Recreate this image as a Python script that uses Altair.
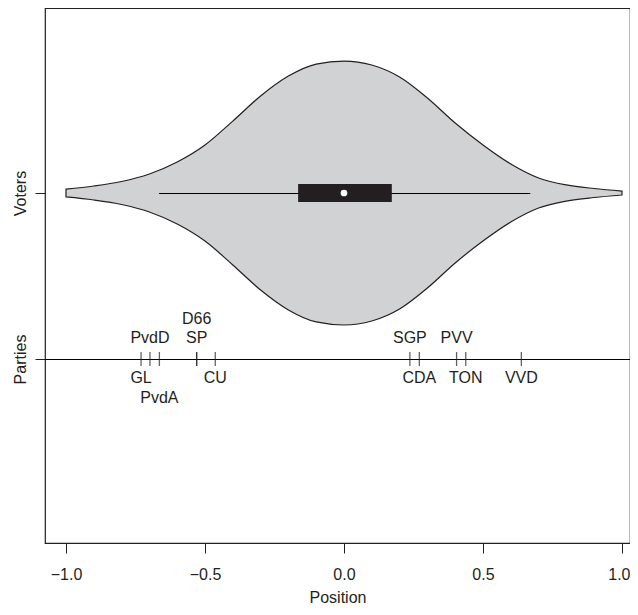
import altair as alt
import pandas as pd

# ---- data ----
grid_x = [-1.0, -0.9, -0.8, -0.7, -0.6, -0.5, -0.4, -0.3, -0.2, -0.1, 0.0,
          0.1, 0.2, 0.3, 0.4, 0.5, 0.6, 0.7, 0.8, 0.9, 1.0]
voter_density = [0.03, 0.053, 0.087, 0.144, 0.235, 0.364, 0.545, 0.735, 0.886, 0.977, 1.0,
                 0.97, 0.879, 0.72, 0.53, 0.364, 0.22, 0.114, 0.061, 0.034, 0.015]

box_q1, box_median, box_q3 = -0.165, 0.0, 0.172
whisker_low, whisker_high = -0.665, 0.67

party_names = ["GL", "PvdD", "PvdA", "D66", "SP", "CU", "SGP", "CDA", "PVV", "TON", "VVD"]
party_pos = [-0.730, -0.698, -0.664, -0.530, -0.530, -0.463, 0.237, 0.271, 0.405, 0.438, 0.638]
label_row = [-1, 1, -2, 2, 1, -1, 1, -1, 1, -1, -1]  # +above / -below the line

row_labels = {2: "Voters", 1: "Parties"}

# ---- layout helpers ----
VOTERS, PARTIES = 2, 1
HALF_MAX = 0.795          # max violin half-height in y units
BOX_HALF = 0.054
FONT = "Liberation Sans"
FS = 16
INK = "#231f20"
W, H = 585, 535
X_DOM = [-1.0755, 1.0288]
Y_DOM = [-0.1084, 3.1145]

violin = pd.DataFrame({
    "x": grid_x,
    "top": [VOTERS + d * HALF_MAX for d in voter_density],
    "bot": [VOTERS - d * HALF_MAX for d in voter_density],
})
box = pd.DataFrame({"q1": [box_q1], "q3": [box_q3], "med": [box_median],
                    "lo": [whisker_low], "hi": [whisker_high],
                    "y": [VOTERS], "ya": [VOTERS - BOX_HALF], "yb": [VOTERS + BOX_HALF]})
parties = pd.DataFrame({"name": party_names, "pos": party_pos, "row": label_row,
                        "y": [PARTIES] * len(party_names)})

xs = alt.Scale(domain=X_DOM, nice=False, zero=False)
ys = alt.Scale(domain=Y_DOM, nice=False, zero=False)

x_axis = alt.Axis(values=[-1, -0.5, 0, 0.5, 1], format=".1f",
                  labelExpr="replace(format(datum.value, '.1f'), '-', '\u2212')",
                  labelAlign={"condition": {"test": "datum.value >= 1", "value": "right"},
                              "value": "center"},
                  labelOffset={"condition": {"test": "datum.value >= 1", "value": 8},
                               "value": 0},
                  domain=False, grid=False, tickSize=10, tickColor=INK, tickWidth=1,
                  labelFont=FONT, labelFontSize=FS, labelColor=INK, labelPadding=13,
                  title="Position", titleFont=FONT, titleFontSize=FS,
                  titleFontWeight="normal", titleColor=INK, titlePadding=7)
y_axis = alt.Axis(values=[1, 2],
                  labelExpr="datum.value == 2 ? 'Voters' : 'Parties'",
                  domain=False, grid=False, tickSize=10, tickColor=INK, tickWidth=1,
                  labelAngle=270, labelAlign="center", labelBaseline="bottom",
                  labelFont=FONT, labelFontSize=FS, labelColor=INK, labelPadding=7,
                  title=None)

base_v = alt.Chart(violin)
area = base_v.mark_area(fill="#d1d2d4", stroke=INK, strokeWidth=1.2,
                        interpolate="monotone").encode(
    x=alt.X("x:Q", scale=xs, axis=x_axis),
    y=alt.Y("top:Q", scale=ys, axis=y_axis),
    y2="bot:Q",
)

base_b = alt.Chart(box)
whisk = base_b.mark_rule(color="black", strokeWidth=1, yOffset=0.5).encode(
    x=alt.X("lo:Q", scale=xs), x2="hi:Q", y=alt.Y("y:Q", scale=ys))
rect = base_b.mark_rect(color=INK).encode(
    x=alt.X("q1:Q", scale=xs), x2="q3:Q", y=alt.Y("ya:Q", scale=ys), y2="yb:Q")
med = base_b.mark_point(filled=True, color="white", size=45, opacity=1).encode(
    x=alt.X("med:Q", scale=xs), y=alt.Y("y:Q", scale=ys))

base_p = alt.Chart(parties)
pline = base_p.mark_rule(color="black", strokeWidth=1, yOffset=0.5).encode(
    y=alt.Y("y:Q", scale=ys), x=alt.value(0), x2=alt.value(W))
pticks = base_p.mark_tick(orient="vertical", size=14, thickness=1.3, color=INK).encode(
    x=alt.X("pos:Q", scale=xs), y=alt.Y("y:Q", scale=ys))

row_dy = {1: -21, 2: -40, -1: 19, -2: 39}
labels = []
for r, dy in row_dy.items():
    labels.append(
        base_p.transform_filter(alt.datum.row == r).mark_text(
            font=FONT, fontSize=FS, color=INK, dy=dy, baseline="middle", align="center"
        ).encode(x=alt.X("pos:Q", scale=xs), y=alt.Y("y:Q", scale=ys), text="name:N")
    )

chart = alt.layer(area, whisk, rect, med, pline, pticks, *labels).properties(
    width=W, height=H,
    background="white",
    autosize=alt.AutoSizeParams(type="none"),
    padding={"left": 37, "top": 0, "right": 0, "bottom": 64},
).configure_view(stroke=INK, strokeWidth=1.2)

chart.save("out.html", embed_options={"renderer": "svg", "actions": False})
